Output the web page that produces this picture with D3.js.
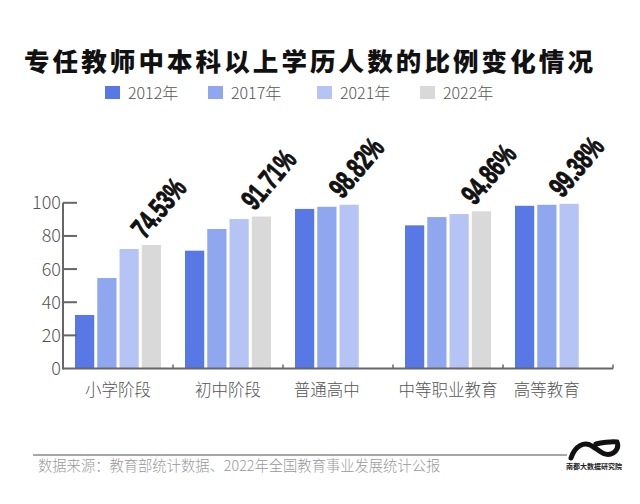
<!DOCTYPE html>
<html>
<head>
<meta charset="utf-8">
<script src="https://cdn.jsdelivr.net/npm/d3@7"></script>
<style>
  html, body { margin: 0; padding: 0; background: #fff; }
  svg { display: block; }
</style>
</head>
<body>
<svg id="chart" width="640" height="504"></svg>
<script>
const title = "专任教师中本科以上学历人数的比例变化情况";
const categories = ["小学阶段", "初中阶段", "普通高中", "中等职业教育", "高等教育"];
const years = ["2012年", "2017年", "2021年", "2022年"];
const v2012 = [32.3, 71.1, 96.3, 86.4, 98.2];
const v2017 = [54.6, 84.2, 97.6, 91.4, 98.8];
const v2021 = [72.1, 90.2, 98.82, 93.2, 99.38];
const v2022 = [74.53, 91.71, null, 94.86, null];
const valueLabels = ["74.53%", "91.71%", "98.82%", "94.86%", "99.38%"];
const yTicks = [0, 20, 40, 60, 80, 100];
const colors = ["#5878e6", "#8fa7ef", "#b5c4f5", "#d9d9d9"];
const source = "数据来源：教育部统计数据、2022年全国教育事业发展统计公报";
const logoText = "南都大数据研究院";

const series = [v2012, v2017, v2021, v2022];
const svg = d3.select("#chart");
const cjk = "'Noto Sans CJK SC', 'Noto Sans', sans-serif";

// Title
svg.append("text")
  .attr("x", 310).attr("y", 71)
  .attr("text-anchor", "middle")
  .attr("font-family", cjk)
  .attr("font-weight", 900)
  .attr("font-size", 25.5)
  .attr("letter-spacing", 3.1)
  .attr("fill", "#111")
  .text(title);

// Legend
const legendX = [105, 208, 317, 420];
const lg = svg.append("g");
years.forEach((y, i) => {
  lg.append("rect").attr("x", legendX[i]).attr("y", 86).attr("width", 15).attr("height", 13).attr("fill", colors[i]);
  lg.append("text").attr("x", legendX[i] + 23).attr("y", 99)
    .attr("font-family", cjk).attr("font-weight", 300).attr("font-size", 16)
    .attr("fill", "#555").text(y);
});

// Scales
const x0 = d3.scaleBand().domain(categories).range([63, 613]);
const x1 = d3.scaleBand().domain(years).range([12, 98]).paddingInner(0.136);
const y = d3.scaleLinear().domain([0, 100]).range([368.5, 202.8]);

// Bars
const groups = svg.append("g").selectAll("g").data(categories).join("g")
  .attr("transform", d => `translate(${x0(d)},0)`);
groups.selectAll("rect")
  .data((d, ci) => years.map((yr, si) => ({ yr, si, v: series[si][ci] })).filter(o => o.v != null))
  .join("rect")
  .attr("x", o => x1(o.yr))
  .attr("width", x1.bandwidth())
  .attr("y", o => y(o.v))
  .attr("height", o => y(0) - y(o.v))
  .attr("fill", o => colors[o.si]);

// Axes lines
const axisColor = "#666";
svg.append("line").attr("x1", 63).attr("x2", 613).attr("y1", y(0)).attr("y2", y(0))
  .attr("stroke", axisColor).attr("stroke-width", 2);
svg.append("line").attr("x1", 63).attr("x2", 63).attr("y1", y(0) + 1).attr("y2", y(100))
  .attr("stroke", axisColor).attr("stroke-width", 2);
categories.forEach(c => {
  const bx = x0(c) + x0.bandwidth();
  svg.append("line").attr("x1", bx).attr("x2", bx).attr("y1", y(0)).attr("y2", y(0) - 4)
    .attr("stroke", axisColor).attr("stroke-width", 1.5);
});
const yAxis = svg.append("g");
yTicks.forEach(t => {
  if (t > 0) {
    yAxis.append("line").attr("x1", 63).attr("x2", 77).attr("y1", y(t)).attr("y2", y(t))
      .attr("stroke", axisColor).attr("stroke-width", 2);
  }
  yAxis.append("text").attr("x", 61).attr("y", y(t) + 6.5)
    .attr("text-anchor", "end")
    .attr("font-family", cjk).attr("font-weight", 300).attr("font-size", 18)
    .attr("fill", "#555").text(t);
});

// Category labels (centred on the bars present)
categories.forEach((c, ci) => {
  const present = years.filter((yr, si) => series[si][ci] != null);
  const left = x0(c) + x1(present[0]);
  const right = x0(c) + x1(present[present.length - 1]) + x1.bandwidth();
  svg.append("text").attr("x", (left + right) / 2).attr("y", 396)
    .attr("text-anchor", "middle")
    .attr("font-family", cjk).attr("font-weight", 300).attr("font-size", 16.5)
    .attr("fill", "#555").text(c);
});

// Rotated, condensed value labels above last bar
categories.forEach((c, ci) => {
  let si = 3;
  while (series[si][ci] == null) si--;
  const bx = x0(c) + x1(years[si]);
  const by = y(series[si][ci]);
  svg.append("text")
    .attr("transform", `translate(${bx + 3},${by - 5}) rotate(-50) scale(0.68,1)`)
    .attr("font-family", "'Liberation Sans', Arial, sans-serif")
    .attr("font-weight", 700)
    .attr("font-size", 29)
    .attr("fill", "#111")
    .attr("stroke", "#111").attr("stroke-width", 1)
    .text(valueLabels[ci]);
});

// Footer
svg.append("line").attr("x1", 33).attr("x2", 567).attr("y1", 455).attr("y2", 455)
  .attr("stroke", "#888").attr("stroke-width", 1.5);
svg.append("text").attr("x", 38).attr("y", 471)
  .attr("font-family", cjk).attr("font-weight", 300).attr("font-size", 14.3)
  .attr("fill", "#999").text(source);

// Logo
svg.append("path")
  .attr("d", "M571,458 C575,446 584,441 592,446 C599,450 603,456 611,454 C617,452 619,446 617,442 C612,441 600,443 596,444")
  .attr("fill", "none").attr("stroke", "#111").attr("stroke-width", 5).attr("stroke-linecap", "round");
svg.append("text").attr("x", 594).attr("y", 469)
  .attr("text-anchor", "middle")
  .attr("font-family", cjk).attr("font-weight", 700).attr("font-size", 7)
  .attr("fill", "#222").text(logoText);
</script>
</body>
</html>
